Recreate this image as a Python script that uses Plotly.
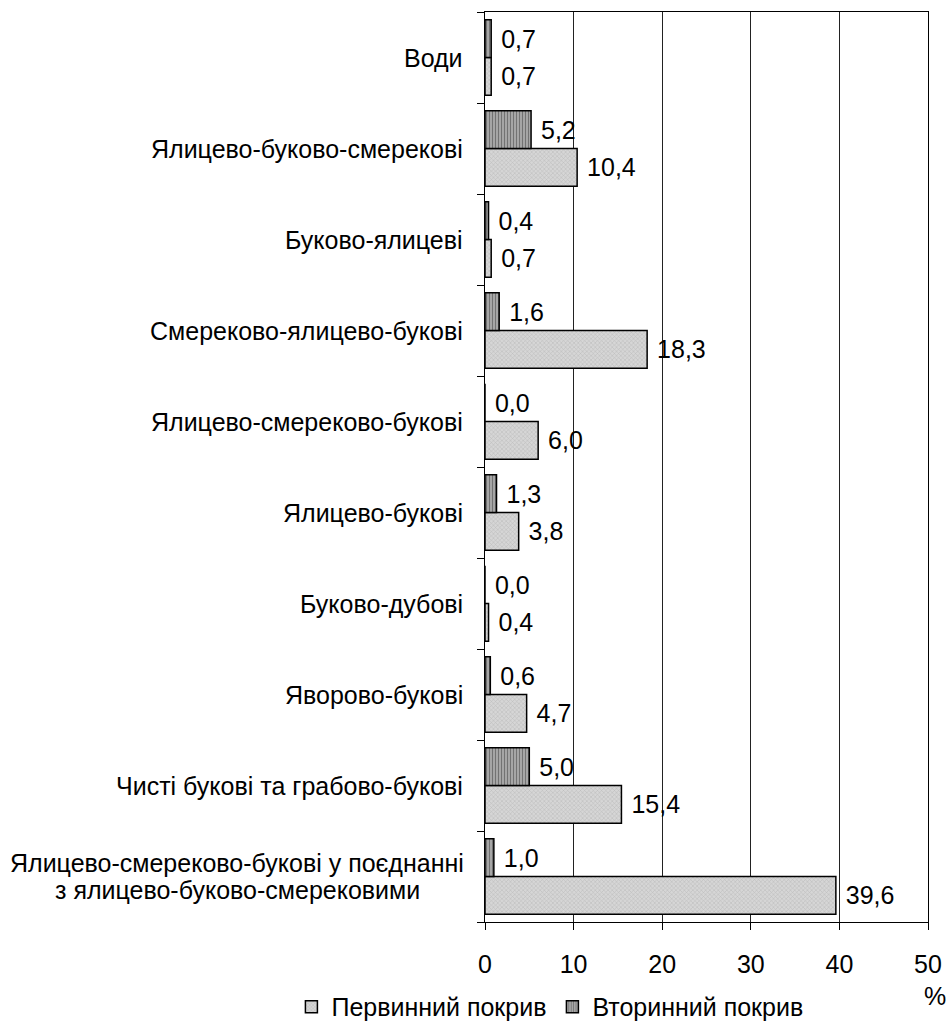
import plotly.graph_objects as go

# Categories listed bottom-to-top (as they appear on the axis from the x-axis upward)
categories = [
    "Ялицево-смереково-букові у поєднанні<br>з ялицево-буково-смерековими",
    "Чисті букові та грабово-букові",
    "Яворово-букові",
    "Буково-дубові",
    "Ялицево-букові",
    "Ялицево-смереково-букові",
    "Смереково-ялицево-букові",
    "Буково-ялицеві",
    "Ялицево-буково-смерекові",
    "Води",
]
primary = [39.6, 15.4, 4.7, 0.4, 3.8, 6.0, 18.3, 0.7, 10.4, 0.7]
secondary = [1.0, 5.0, 0.6, 0.0, 1.3, 0.0, 1.6, 0.4, 5.2, 0.7]
series_names = ["Первинний покрив", "Вторинний покрив"]
x_ticks = [0, 10, 20, 30, 40, 50]

FONT = "Liberation Sans, Arial, sans-serif"
FS = 25
LINE_STEP = 27

fig = go.Figure()
fig.add_trace(go.Bar(
    y=categories, x=primary, orientation="h", name=series_names[0],
    marker=dict(color="#cccccc", line=dict(color="black", width=1.5),
                pattern=dict(shape="x", size=3, solidity=0.3,
                             fgcolor="#9a9a9a", bgcolor="#d6d6d6")),
    texttemplate="\u00a0%{x:.1f}", textposition="outside",
    textfont=dict(family=FONT, size=FS, color="black"),
    cliponaxis=False,
))
fig.add_trace(go.Bar(
    y=categories, x=secondary, orientation="h", name=series_names[1],
    marker=dict(color="#888888", line=dict(color="black", width=1.5),
                pattern=dict(shape="|", size=3, solidity=0.45,
                             fgcolor="#353535", bgcolor="#b0b0b0")),
    texttemplate="\u00a0%{x:.1f}", textposition="outside",
    textfont=dict(family=FONT, size=FS, color="black"),
    cliponaxis=False,
))

# Category labels as annotations; multi-line label lines are centered on each other
for c in categories:
    lines = c.split("<br>")
    n = len(lines)
    for i, ln in enumerate(lines):
        fig.add_annotation(
            x=0, xref="paper", y=c, yref="y", text=ln, showarrow=False,
            xanchor="right" if n == 1 else "center", yanchor="middle",
            xshift=-20 if n == 1 else -248,
            yshift=((n - 1) / 2 - i) * LINE_STEP,
            font=dict(family=FONT, size=FS, color="black"),
        )

fig.add_annotation(
    x=1.0147, xref="paper", y=-0.0813, yref="paper", text="%", showarrow=False,
    xanchor="center", yanchor="middle",
    font=dict(family=FONT, size=FS, color="black"),
)

fig.update_layout(
    width=946, height=1023,
    margin=dict(l=485, r=17.5, t=12, b=101, autoexpand=False),
    paper_bgcolor="white", plot_bgcolor="white",
    barmode="group", bargap=0.17, bargroupgap=0,
    separators=", ",
    font=dict(family=FONT, size=FS, color="black"),
    showlegend=True,
    legend=dict(orientation="h", x=-0.437, xanchor="left", y=-0.0934, yanchor="middle",
                font=dict(family=FONT, size=FS, color="black"),
                itemwidth=30, traceorder="normal", bgcolor="rgba(0,0,0,0)",
                entrywidth=216, entrywidthmode="pixels"),
    xaxis=dict(range=[0, 50], tickvals=x_ticks, ticks="outside", ticklen=7,
               tickcolor="black", showline=True, linecolor="black", linewidth=1.2,
               mirror=True, showgrid=True, gridcolor="#222222", gridwidth=1,
               zeroline=False, ticklabelstandoff=13, ticklabeloverflow="allow",
               automargin=False,
               tickfont=dict(family=FONT, size=FS, color="black")),
    yaxis=dict(categoryorder="array", categoryarray=categories,
               showticklabels=False, ticks="outside", ticklen=7, tickcolor="black",
               tickson="boundaries", showline=True, linecolor="black", linewidth=1.2,
               mirror=True, showgrid=False, zeroline=False, automargin=False),
)

fig.write_html(
    "out.html",
    config={"displayModeBar": False},
    post_script="document.body.style.margin='0';document.body.style.overflow='hidden';",
)
